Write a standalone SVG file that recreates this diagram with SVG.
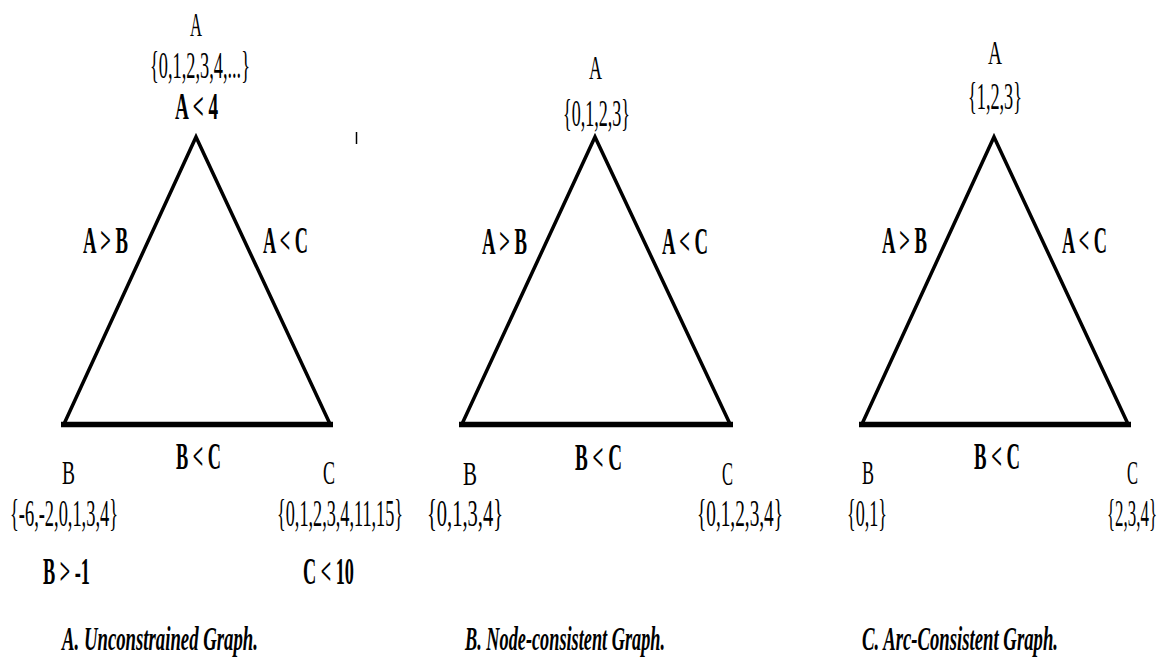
<svg xmlns="http://www.w3.org/2000/svg" width="1168" height="665" viewBox="0 0 1168 665">
<style>
text{font-family:"Liberation Serif","Times New Roman",serif;fill:#000}
.n{font-size:34px}
.s{font-size:37px}
.b{font-size:37px;font-weight:bold}
.cap{font-size:34px;font-weight:bold;font-style:italic}
.side{stroke:#000;stroke-width:3.5;fill:none;stroke-linejoin:miter}
.base{stroke:#000;stroke-width:5.5;fill:none}
</style>
<rect width="1168" height="665" fill="#fff"/>
<g id="connectors">
<polyline class="side" points="64,424 196,137 330,424"/>
<line class="base" x1="61" y1="424.5" x2="333" y2="424.5"/>
<polyline class="side" points="462,424 595,137 730,424"/>
<line class="base" x1="459" y1="424.5" x2="733" y2="424.5"/>
<polyline class="side" points="862,424 994,137 1128,424"/>
<line class="base" x1="859" y1="424.5" x2="1131" y2="424.5"/>
<line x1="356.5" y1="132" x2="356.5" y2="144" stroke="#000" stroke-width="1.5"/>
</g>
<g id="edge-labels">
<text class="b" x="83" y="253" textLength="45" lengthAdjust="spacingAndGlyphs">A &gt; B</text>
<text class="b" x="263" y="253" textLength="45" lengthAdjust="spacingAndGlyphs">A &lt; C</text>
<text class="b" x="176" y="469" textLength="45" lengthAdjust="spacingAndGlyphs">B &lt; C</text>
<text class="b" x="482" y="254" textLength="45" lengthAdjust="spacingAndGlyphs">A &gt; B</text>
<text class="b" x="662" y="254" textLength="46" lengthAdjust="spacingAndGlyphs">A &lt; C</text>
<text class="b" x="575" y="470" textLength="47" lengthAdjust="spacingAndGlyphs">B &lt; C</text>
<text class="b" x="882" y="253" textLength="45" lengthAdjust="spacingAndGlyphs">A &gt; B</text>
<text class="b" x="1062" y="253" textLength="45" lengthAdjust="spacingAndGlyphs">A &lt; C</text>
<text class="b" x="974" y="469" textLength="46" lengthAdjust="spacingAndGlyphs">B &lt; C</text>
</g>
<g id="p1-A">
<text class="n" x="190" y="36" textLength="12" lengthAdjust="spacingAndGlyphs">A</text>
<text class="s" x="150" y="78" textLength="100" lengthAdjust="spacingAndGlyphs">{0,1,2,3,4,...}</text>
<text class="b" x="175" y="119" textLength="43" lengthAdjust="spacingAndGlyphs">A &lt; 4</text>
</g>
<g id="p1-B">
<text class="n" x="62" y="484" textLength="13" lengthAdjust="spacingAndGlyphs">B</text>
<text class="s" x="10" y="526" textLength="108" lengthAdjust="spacingAndGlyphs">{-6,-2,0,1,3,4}</text>
<text class="b" x="43" y="584" textLength="47" lengthAdjust="spacingAndGlyphs">B &gt; -1</text>
</g>
<g id="p1-C">
<text class="n" x="323" y="484" textLength="12" lengthAdjust="spacingAndGlyphs">C</text>
<text class="s" x="277" y="526" textLength="126" lengthAdjust="spacingAndGlyphs">{0,1,2,3,4,11,15}</text>
<text class="b" x="303" y="584" textLength="51" lengthAdjust="spacingAndGlyphs">C &lt; 10</text>
</g>
<g id="p2-A">
<text class="n" x="589" y="79" textLength="13" lengthAdjust="spacingAndGlyphs">A</text>
<text class="s" x="563" y="126" textLength="67" lengthAdjust="spacingAndGlyphs">{0,1,2,3}</text>
</g>
<g id="p2-B">
<text class="n" x="463" y="485" textLength="14" lengthAdjust="spacingAndGlyphs">B</text>
<text class="s" x="427" y="526" textLength="76" lengthAdjust="spacingAndGlyphs">{0,1,3,4}</text>
</g>
<g id="p2-C">
<text class="n" x="722" y="485" textLength="11" lengthAdjust="spacingAndGlyphs">C</text>
<text class="s" x="697" y="526" textLength="86" lengthAdjust="spacingAndGlyphs">{0,1,2,3,4}</text>
</g>
<g id="p3-A">
<text class="n" x="988" y="64" textLength="14" lengthAdjust="spacingAndGlyphs">A</text>
<text class="s" x="968" y="109" textLength="54" lengthAdjust="spacingAndGlyphs">{1,2,3}</text>
</g>
<g id="p3-B">
<text class="n" x="862" y="484" textLength="12" lengthAdjust="spacingAndGlyphs">B</text>
<text class="s" x="847" y="526" textLength="40" lengthAdjust="spacingAndGlyphs">{0,1}</text>
</g>
<g id="p3-C">
<text class="n" x="1127" y="484" textLength="11" lengthAdjust="spacingAndGlyphs">C</text>
<text class="s" x="1107" y="526" textLength="50" lengthAdjust="spacingAndGlyphs">{2,3,4}</text>
</g>
<g id="captions">
<text class="cap" x="62" y="650" textLength="196" lengthAdjust="spacingAndGlyphs">A. Unconstrained Graph.</text>
<text class="cap" x="465" y="650" textLength="200" lengthAdjust="spacingAndGlyphs">B. Node-consistent Graph.</text>
<text class="cap" x="862" y="650" textLength="196" lengthAdjust="spacingAndGlyphs">C. Arc-Consistent Graph.</text>
</g>
</svg>
